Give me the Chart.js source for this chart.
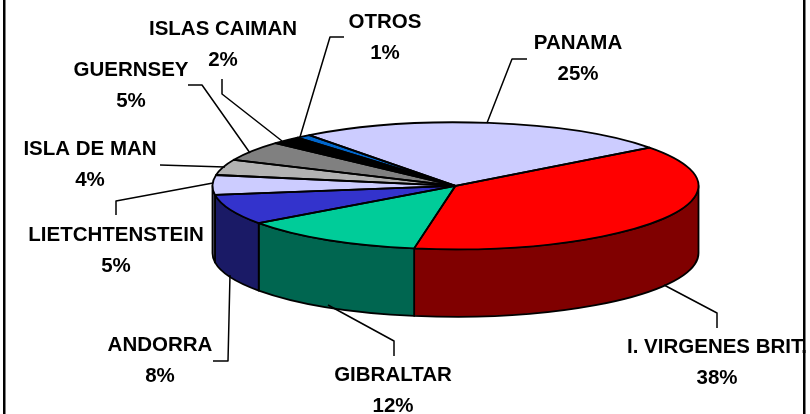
<!DOCTYPE html>
<html><head><meta charset="utf-8">
<style>html,body{margin:0;padding:0;background:#fff}#wrap{position:absolute;left:0;top:0;width:810px;height:414px}</style>
<script src="https://cdn.jsdelivr.net/npm/chart.js@4"></script>
</head><body><div id="wrap"><canvas id="c" width="810" height="414"></canvas></div>
<script>
// ---- data ----
const categories = ["I. VIRGENES BRIT.","GIBRALTAR","ANDORRA","LIETCHTENSTEIN","ISLA DE MAN","GUERNSEY","ISLAS CAIMAN","OTROS","PANAMA"];
const shares = [38,12.3,7.7,5,4,5,2,1,25];
const topColors = ["#ff0000","#00cc99","#3333cc","#ccccff","#b2b2b2","#808080","#000000","#0066cc","#ccccff"];
const sideColors = ["#800000","#006650","#1a1a66","#666680","#595959","#404040","#000000","#003366","#666680"];
// ---- layout of the tilted pie and its annotations ----
const pie = {cx:455.5, cy:185.8, rx:243, ry:63.5, depth:67.5};
const labelPos = [[717,346],[393,374],[160,344],[116,234],[90,148],[131,69],[223,28],[385,21],[578,42]];
const valueDy = 31;
const leaders = [
 [[717,328],[717,313],[664,285]],
 [[394,356],[394,341],[328,305]],
 [[213,361],[228,361],[230,275]],
 [[116,215],[116,201],[213,183]],
 [[160,165],[225,167]],
 [[188,85],[202,85],[250,153]],
 [[222,79],[222,94],[282,141]],
 [[344,37],[330,37],[300,137]],
 [[527,59],[512,59],[487,123]]
];
function norm(a){a%=2*Math.PI;return a<0?a+2*Math.PI:a;}
const tilted = {
 id:'tilted',
 beforeDatasetsDraw(chart){
  const ctx=chart.ctx, arcs=chart.getDatasetMeta(0).data;
  const {cx,cy,rx,ry,depth}=pie;
  ctx.save();
  ctx.lineWidth=1.8;ctx.strokeStyle='#000';ctx.lineJoin='round';
  arcs.forEach((el,i)=>{
    let s=norm(el.startAngle), e=s+(el.endAngle-el.startAngle);
    const segs=[[s,e],[s-2*Math.PI,e-2*Math.PI]];
    segs.forEach(([a,b])=>{
      const a0=Math.max(a,0), b0=Math.min(b,Math.PI);
      if(b0<=a0) return;
      ctx.beginPath();
      ctx.ellipse(cx,cy,rx,ry,0,a0,b0);
      ctx.ellipse(cx,cy+depth,rx,ry,0,b0,a0,true);
      ctx.closePath();
      ctx.fillStyle=sideColors[i];ctx.fill();ctx.stroke();
    });
  });
  ctx.restore();
  const el0=arcs[0];
  ctx.save();
  ctx.translate(cx,cy);
  ctx.scale(rx/el0.outerRadius,ry/el0.outerRadius);
  ctx.translate(-el0.x,-el0.y);
 },
 afterDatasetsDraw(chart){
  const ctx=chart.ctx, arcs=chart.getDatasetMeta(0).data;
  ctx.restore();
  const {cx,cy,rx,ry}=pie;
  ctx.save();
  ctx.lineWidth=1.8;ctx.strokeStyle='#000';ctx.lineJoin='round';
  arcs.forEach(el=>{
    ctx.beginPath();
    ctx.moveTo(cx,cy);
    ctx.ellipse(cx,cy,rx,ry,0,el.startAngle,el.endAngle);
    ctx.closePath();ctx.stroke();
  });
  ctx.lineWidth=1.5;
  leaders.forEach(pts=>{
    ctx.beginPath();
    pts.forEach((p,k)=>k?ctx.lineTo(p[0],p[1]):ctx.moveTo(p[0],p[1]));
    ctx.stroke();
  });
  ctx.fillStyle='#000';ctx.textAlign='center';ctx.textBaseline='middle';
  ctx.font='bold 20.5px "Liberation Sans"';
  categories.forEach((c,i)=>{
    const [x,y]=labelPos[i];
    ctx.fillText(c,x,y+1);
    ctx.fillText(Math.round(shares[i])+'%',x,y+1+valueDy);
  });
  ctx.restore();
 }
};
const frame = {
 id:'frame',
 beforeDraw(chart){
  const ctx=chart.ctx;
  ctx.save();ctx.fillStyle='#fff';ctx.fillRect(0,0,810,414);
  ctx.fillStyle='#000';
  ctx.fillRect(3,0,2.5,414);
  ctx.fillRect(803,0,2.5,414);
  ctx.restore();
 }
};
new Chart(document.getElementById('c'),{
 type:'pie',
 data:{labels:categories,datasets:[{data:shares,backgroundColor:topColors,borderWidth:0}]},
 options:{responsive:false,animation:false,rotation:53,
  plugins:{legend:{display:false},title:{display:false},tooltip:{enabled:false}}},
 plugins:[frame,tilted]
});
</script></body></html>
